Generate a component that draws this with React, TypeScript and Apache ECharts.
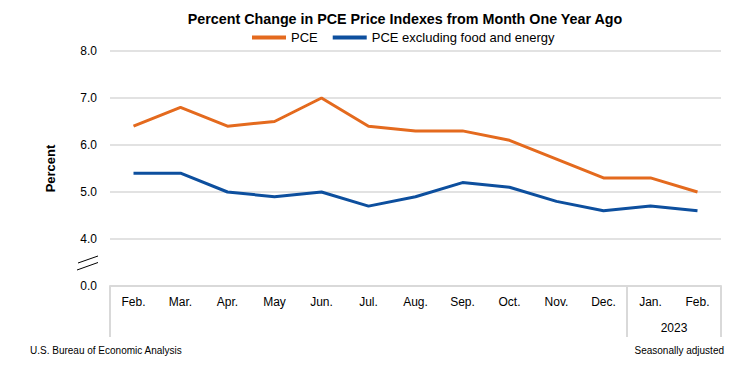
import React, { useEffect, useRef } from "react";
import * as echarts from "echarts";

const categories = ["Feb.", "Mar.", "Apr.", "May", "Jun.", "Jul.", "Aug.", "Sep.", "Oct.", "Nov.", "Dec.", "Jan.", "Feb."];
const pceValues = [6.4, 6.8, 6.4, 6.5, 7.0, 6.4, 6.3, 6.3, 6.1, 5.7, 5.3, 5.3, 5.0];
const coreValues = [5.4, 5.4, 5.0, 4.9, 5.0, 4.7, 4.9, 5.2, 5.1, 4.8, 4.6, 4.7, 4.6];
const yearLabel = "2023";
const yearStartIndex = 11;
const seriesNames = ["PCE", "PCE excluding food and energy"];

const FONT = "'Liberation Sans', Arial, sans-serif";
const ORANGE = "#E46A1E";
const BLUE = "#0D4F9E";
const GRID = "#D9D9D9";

export default function App() {
  const ref = useRef<HTMLDivElement>(null);
  useEffect(() => {
    if (!ref.current) return;
    const chart = echarts.init(ref.current, undefined, { renderer: "svg" });
    const option: any = {
      animation: false,
      backgroundColor: "#ffffff",
      textStyle: { fontFamily: FONT },
      title: {
        text: "Percent Change in PCE Price Indexes from Month One Year Ago",
        left: 400,
        textAlign: "center",
        top: 7,
        textStyle: { fontFamily: FONT, fontSize: 14.3, fontWeight: "bold", color: "#000" },
      },
      legend: {
        top: 31,
        left: 252,
        padding: 0,
        icon: "rect",
        itemWidth: 34,
        itemHeight: 4,
        itemGap: 15,
        textStyle: { fontFamily: FONT, fontSize: 13, color: "#000" },
        data: seriesNames,
      },
      grid: { left: 110, right: 16, top: 51, bottom: 89, containLabel: false },
      xAxis: {
        type: "category",
        data: categories,
        boundaryGap: true,
        axisLine: { show: true, lineStyle: { color: GRID, width: 2 } },
        axisTick: {
          show: true,
          length: 51,
          interval: (i: number) => i === 0 || i === yearStartIndex,
          lineStyle: { color: GRID, width: 2 },
        },
        axisLabel: { interval: 0, margin: 10, fontSize: 12, color: "#000", fontFamily: FONT },
      },
      yAxis: {
        type: "value",
        min: 3,
        max: 8,
        interval: 1,
        name: "Percent",
        nameLocation: "middle",
        nameGap: 53,
        nameTextStyle: { fontFamily: FONT, fontSize: 13, fontWeight: "bold", color: "#000" },
        axisLine: { show: false },
        axisTick: { show: false },
        splitLine: { show: true, lineStyle: { color: GRID, width: 1.5 } },
        axisLabel: {
          margin: 13,
          fontSize: 12,
          color: "#000",
          fontFamily: FONT,
          formatter: (v: number) => (v === 3 ? "0.0" : v.toFixed(1)),
        },
      },
      series: [
        {
          name: seriesNames[0],
          type: "line",
          data: pceValues,
          symbol: "none",
          lineStyle: { color: ORANGE, width: 3 },
          itemStyle: { color: ORANGE },
        },
        {
          name: seriesNames[1],
          type: "line",
          data: coreValues,
          symbol: "none",
          lineStyle: { color: BLUE, width: 3 },
          itemStyle: { color: BLUE },
        },
      ],
    };
    chart.setOption(option);

    const p1 = chart.convertToPixel({ xAxisIndex: 0 }, yearStartIndex) as number;
    const p2 = chart.convertToPixel({ xAxisIndex: 0 }, categories.length - 1) as number;
    const base = chart.convertToPixel({ yAxisIndex: 0 }, 3) as number;
    chart.setOption({
      graphic: [
        {
          type: "text",
          x: (p1 + p2) / 2,
          y: base + 42,
          style: { text: yearLabel, fill: "#000", font: `12px ${FONT}`, align: "center", verticalAlign: "middle" },
        },
        {
          type: "line",
          shape: { x1: 78, y1: 263, x2: 98, y2: 256 },
          style: { stroke: "#000", lineWidth: 1 },
        },
        {
          type: "line",
          shape: { x1: 77, y1: 270, x2: 98, y2: 262.5 },
          style: { stroke: "#000", lineWidth: 1 },
        },
        {
          type: "text",
          left: 30,
          top: 345,
          style: { text: "U.S. Bureau of Economic Analysis", fill: "#000", font: `10px ${FONT}` },
        },
        {
          type: "text",
          right: 13,
          top: 345,
          style: { text: "Seasonally adjusted", fill: "#000", font: `10px ${FONT}` },
        },
      ],
    });
    return () => chart.dispose();
  }, []);
  return (
    <div
      ref={ref}
      style={{ position: "fixed", left: 0, top: 0, width: 737, height: 375, background: "#fff" }}
    />
  );
}
